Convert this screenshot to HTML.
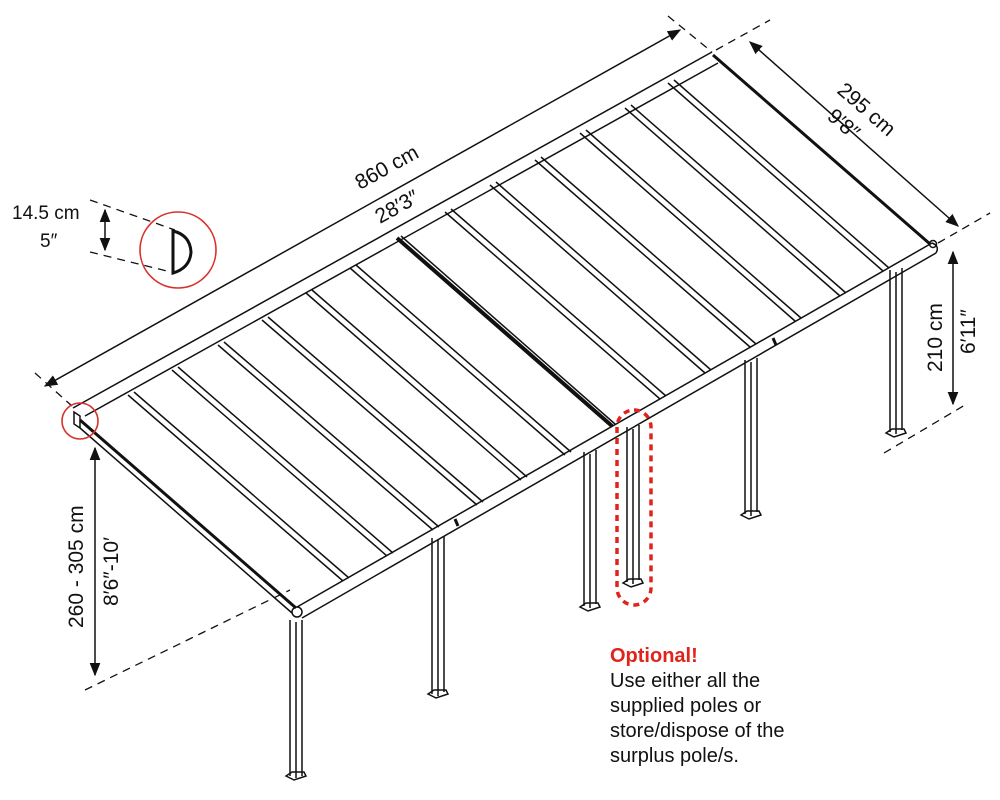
<!DOCTYPE html>
<html><head><meta charset="utf-8"><style>
html,body{margin:0;padding:0;background:#fff;width:1000px;height:800px;overflow:hidden}
svg{display:block}
text{font-family:"Liberation Sans",sans-serif;fill:#111}
</style></head><body>
<svg width="1000" height="800" viewBox="0 0 1000 800" xmlns="http://www.w3.org/2000/svg">
<defs>
<marker id="a" viewBox="0 0 10 10" refX="9" refY="5" markerWidth="9" markerHeight="9" orient="auto-start-reverse"><path d="M0,1 L10,5 L0,9 Z" fill="#111"/></marker>
</defs>
<g stroke="#111" fill="none" stroke-width="1.5">
<line x1="73" y1="408" x2="712" y2="52"/>
<line x1="85" y1="416" x2="718" y2="63"/>
<line x1="80" y1="420" x2="296" y2="608" stroke-width="3"/>
<line x1="80" y1="428" x2="292" y2="613"/>
<path d="M74,412 L80,416 L80,428 L74,424 Z"/>
<line x1="713" y1="55" x2="930" y2="244" stroke-width="3"/>
<line x1="297" y1="607" x2="932" y2="243"/>
<line x1="302" y1="618" x2="936" y2="253"/>
<path d="M932,243 Q940,246 936,253"/>
<circle cx="297" cy="612" r="5"/>
<circle cx="933" cy="244" r="3.5"/>
<line x1="455" y1="519" x2="458" y2="526" stroke-width="3"/>
<line x1="773" y1="338" x2="776" y2="345" stroke-width="3"/>
<g>
<line x1="128" y1="395" x2="343" y2="581"/><line x1="134" y1="392" x2="349" y2="578"/>
<line x1="172" y1="370" x2="387" y2="556"/><line x1="178" y1="367" x2="393" y2="553"/>
<line x1="218" y1="345" x2="433" y2="530"/><line x1="224" y1="342" x2="439" y2="527"/>
<line x1="262" y1="320" x2="477" y2="505"/><line x1="268" y1="317" x2="483" y2="502"/>
<line x1="306" y1="293" x2="521" y2="480"/><line x1="312" y1="290" x2="527" y2="477"/>
<line x1="350" y1="268" x2="565" y2="455"/><line x1="356" y1="265" x2="571" y2="452"/>
<line x1="397" y1="238" x2="612" y2="426" stroke-width="4"/><line x1="401" y1="236" x2="615" y2="424"/>
<line x1="445" y1="212" x2="660" y2="399"/><line x1="451" y1="209" x2="666" y2="396"/>
<line x1="490" y1="185" x2="705" y2="373"/><line x1="496" y1="182" x2="711" y2="370"/>
<line x1="535" y1="160" x2="750" y2="347"/><line x1="541" y1="157" x2="756" y2="344"/>
<line x1="580" y1="133" x2="795" y2="321"/><line x1="586" y1="130" x2="801" y2="318"/>
<line x1="625" y1="108" x2="840" y2="296"/><line x1="631" y1="105" x2="846" y2="293"/>
<line x1="668" y1="83" x2="883" y2="271"/><line x1="674" y1="80" x2="889" y2="268"/>
</g>
<g>
<path d="M290,620 V776 M296,622 V778 M302,620 V776"/><path d="M286,776 l8,4 l12,-4 l-2,-4 l-12,0 Z"/>
<path d="M432,538 V694 M438,540 V696 M444,536 V692"/><path d="M428,694 l8,4 l12,-4 l-2,-4 l-12,0 Z"/>
<path d="M584,452 V606 M590,454 V608 M596,450 V604"/><path d="M580,607 l8,4 l12,-4 l-2,-4 l-12,0 Z"/>
<path d="M627,427 V582 M633,429 V584 M639,425 V580"/><path d="M623,583 l8,4 l12,-4 l-2,-4 l-12,0 Z"/>
<path d="M745,360 V514 M751,362 V516 M757,358 V512"/><path d="M741,515 l8,4 l12,-4 l-2,-4 l-12,0 Z"/>
<path d="M890,270 V432 M896,272 V434 M902,268 V430"/><path d="M886,433 l8,4 l12,-4 l-2,-4 l-12,0 Z"/>
</g>
<g stroke-dasharray="8,6" stroke-width="1.3">
<line x1="35" y1="373" x2="72" y2="406"/>
<line x1="668" y1="16" x2="712" y2="52"/>
<line x1="716" y1="50" x2="770" y2="20"/>
<line x1="938" y1="243" x2="990" y2="213"/>
<line x1="884" y1="453" x2="965" y2="405"/>
<line x1="85" y1="690" x2="290" y2="590"/>
<line x1="90" y1="200" x2="175" y2="230"/>
<line x1="90" y1="252" x2="175" y2="273"/>
</g>
<line x1="45" y1="386" x2="680" y2="30" marker-start="url(#a)" marker-end="url(#a)"/>
<line x1="750" y1="42" x2="958" y2="226" marker-start="url(#a)" marker-end="url(#a)"/>
<line x1="953" y1="252" x2="953" y2="404" marker-start="url(#a)" marker-end="url(#a)"/>
<line x1="95" y1="448" x2="95" y2="675" marker-start="url(#a)" marker-end="url(#a)"/>
<line x1="105" y1="210" x2="105" y2="250" marker-start="url(#a)" marker-end="url(#a)"/>
<circle cx="178" cy="250" r="38" stroke="#d9302a" stroke-width="1.6"/>
<circle cx="80" cy="421" r="18" stroke="#d9302a" stroke-width="1.6"/>
<rect x="617" y="410" width="34" height="195" rx="17" stroke="#e0241c" stroke-width="3.5" stroke-dasharray="6,5"/>
<path d="M173,231 L173,273 Q190,268 191,252 Q190,235 173,231 Z" stroke-width="3"/>
</g>
<text transform="translate(360,190) rotate(-29)" font-size="21">860 cm</text>
<text transform="translate(380,224) rotate(-29)" font-size="21">28′3″</text>
<text transform="translate(836,92) rotate(41)" font-size="21">295 cm</text>
<text transform="translate(826,118) rotate(41)" font-size="21">9′8″</text>
<text transform="translate(942,372) rotate(-90)" font-size="21">210 cm</text>
<text transform="translate(975,354) rotate(-90)" font-size="21">6′11″</text>
<text transform="translate(83,628) rotate(-90)" font-size="21">260 - 305 cm</text>
<text transform="translate(118,606) rotate(-90)" font-size="21">8′6″-10′</text>
<text x="12" y="219" font-size="19">14.5 cm</text>
<text x="40" y="247" font-size="19">5″</text>
<text x="610" y="662" font-size="20" font-weight="bold" style="fill:#e0241c">Optional!</text>
<text x="610" y="687" font-size="20">Use either all the</text>
<text x="610" y="712" font-size="20">supplied poles or</text>
<text x="610" y="737" font-size="20">store/dispose of the</text>
<text x="610" y="762" font-size="20">surplus pole/s.</text>
</svg>
</body></html>
